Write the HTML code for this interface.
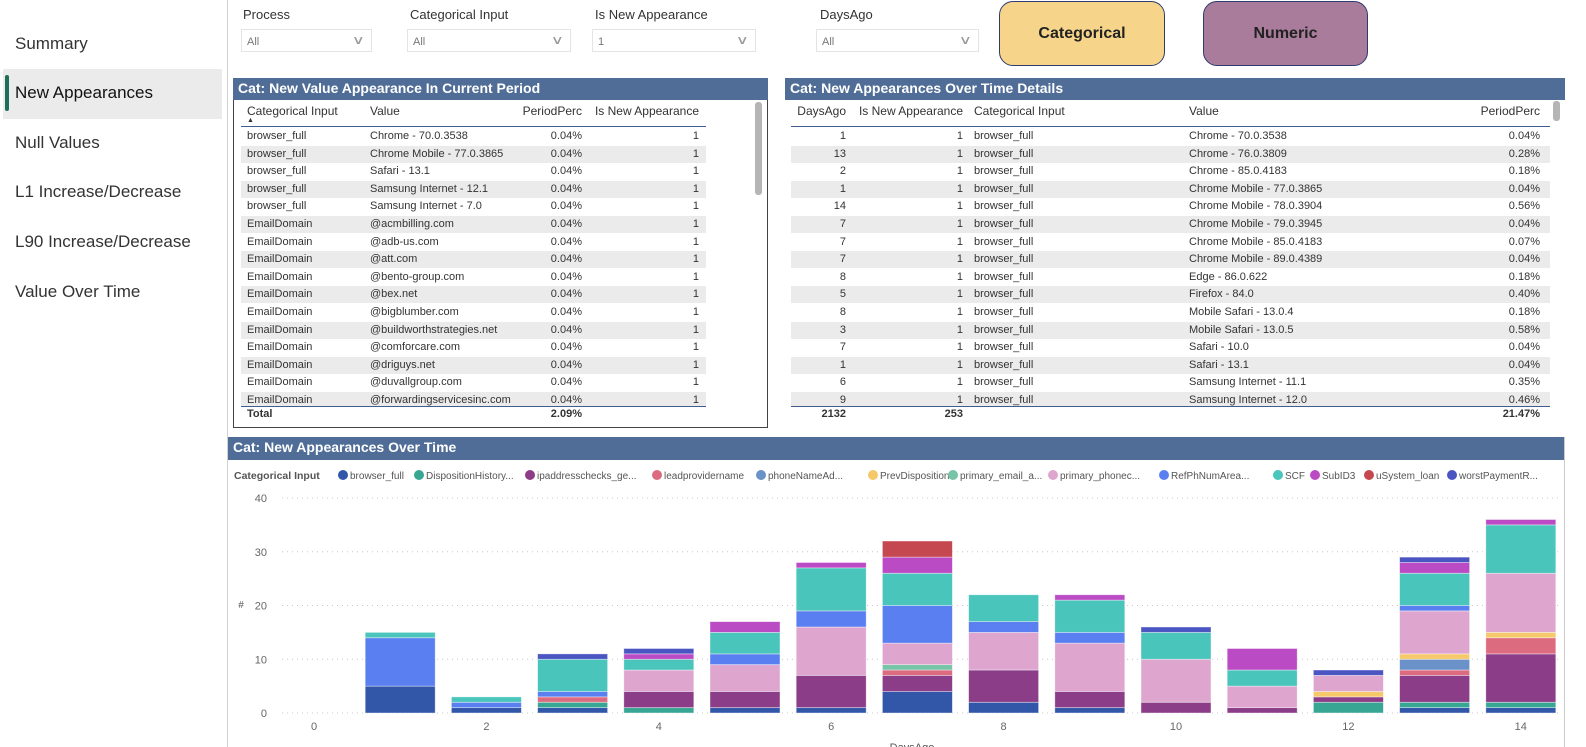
<!DOCTYPE html>
<html><head><meta charset="utf-8"><style>
*{box-sizing:border-box;margin:0;padding:0}
body{width:1586px;height:747px;overflow:hidden;background:#fff;font-family:"Liberation Sans",sans-serif;color:#252423;position:relative}
.nav{position:absolute;left:0;top:0;width:228px;height:747px;border-right:1px solid #d0d0d0}
.nav div{position:absolute;left:15px;font-size:17px;color:#333}
.sel{position:absolute;left:3px;top:69px;width:219px;height:50px;background:#ebebeb}
.selbar{position:absolute;left:5px;top:75px;width:4px;height:36px;background:#1f6e5a;border-radius:2px}
.slab{position:absolute;top:7px;font-size:13px;color:#333}
.sbox{position:absolute;top:29px;height:23px;border:1px solid #e4e4e4;font-size:11px;color:#777;padding:6px 0 0 5px}
.sbox span{position:absolute;right:8px;top:3px;font-size:12px;color:#999;transform:scaleX(1.5)}
.btn{position:absolute;top:1px;height:65px;border:1px solid #2f3b6e;border-radius:14px;font-weight:bold;font-size:16px;text-align:center;line-height:63px;color:#222}
.hdr{position:absolute;background:#4f6d97;color:#fff;font-weight:bold;font-size:14px;padding:2px 0 0 5px;height:22px}
.cell{position:absolute;font-size:11px;white-space:nowrap;color:#333}
.row{position:absolute;height:17px}
</style></head><body>
<div class="nav">
<div class="sel" style="left:3px"></div>
<div class="selbar" style="left:5px"></div>
<div style="top:34px">Summary</div>
<div style="top:83px;color:#111">New Appearances</div>
<div style="top:133px">Null Values</div>
<div style="top:182px">L1 Increase/Decrease</div>
<div style="top:232px">L90 Increase/Decrease</div>
<div style="top:282px">Value Over Time</div>
</div>

<div class="slab" style="left:243px">Process</div>
<div class="sbox" style="left:241px;width:131px">All<span>∨</span></div>
<div class="slab" style="left:410px">Categorical Input</div>
<div class="sbox" style="left:407px;width:164px">All<span>∨</span></div>
<div class="slab" style="left:595px">Is New Appearance</div>
<div class="sbox" style="left:592px;width:164px">1<span>∨</span></div>
<div class="slab" style="left:820px">DaysAgo</div>
<div class="sbox" style="left:816px;width:163px">All<span>∨</span></div>
<div class="btn" style="left:999px;width:166px;background:#f6d58b">Categorical</div>
<div class="btn" style="left:1203px;width:165px;background:#a87c9a">Numeric</div>

<div style="position:absolute;left:233px;top:78px;width:535px;height:350px;border:1px solid #444"></div>
<div class="hdr" style="left:233px;top:78px;width:535px">Cat: New Value Appearance In Current Period</div>
<div id="t1"></div>
<div style="position:absolute;left:755px;top:102px;width:7px;height:93px;background:#b5b5b5;border-radius:3px"></div>

<div class="hdr" style="left:785px;top:78px;width:780px">Cat: New Appearances Over Time Details</div>
<div id="t2"></div>
<div style="position:absolute;left:1553px;top:101px;width:7px;height:20px;background:#b5b5b5;border-radius:3px"></div>

<div class="hdr" style="left:228px;top:437px;width:1337px;height:23px">Cat: New Appearances Over Time</div>
<div style="position:absolute;left:1564px;top:437px;width:1px;height:310px;background:#ccc"></div>
<svg id="chart" width="1586" height="747" style="position:absolute;left:0;top:0;pointer-events:none"></svg>

<script>
const t1Cats=["browser_full","browser_full","browser_full","browser_full","browser_full","EmailDomain","EmailDomain","EmailDomain","EmailDomain","EmailDomain","EmailDomain","EmailDomain","EmailDomain","EmailDomain","EmailDomain","EmailDomain"];
const t1Vals=["Chrome - 70.0.3538","Chrome Mobile - 77.0.3865","Safari - 13.1","Samsung Internet - 12.1","Samsung Internet - 7.0","@acmbilling.com","@adb-us.com","@att.com","@bento-group.com","@bex.net","@bigblumber.com","@buildworthstrategies.net","@comforcare.com","@driguys.net","@duvallgroup.com","@forwardingservicesinc.com"];
const t2Days=[1,13,2,1,14,7,7,7,8,5,8,3,7,1,6,9];
const t2Vals=["Chrome - 70.0.3538","Chrome - 76.0.3809","Chrome - 85.0.4183","Chrome Mobile - 77.0.3865","Chrome Mobile - 78.0.3904","Chrome Mobile - 79.0.3945","Chrome Mobile - 85.0.4183","Chrome Mobile - 89.0.4389","Edge - 86.0.622","Firefox - 84.0","Mobile Safari - 13.0.4","Mobile Safari - 13.0.5","Safari - 10.0","Safari - 13.1","Samsung Internet - 11.1","Samsung Internet - 12.0"];
const t2Perc=["0.04%","0.28%","0.18%","0.04%","0.56%","0.04%","0.07%","0.04%","0.18%","0.40%","0.18%","0.58%","0.04%","0.04%","0.35%","0.46%"];

function cell(parent,txt,x,y,align,bold){
  const d=document.createElement('div');d.className='cell';
  d.textContent=txt;d.style.top=y+'px';
  if(align==='r'){d.style.right=(1586-x)+'px';}else d.style.left=x+'px';
  if(bold)d.style.fontWeight='bold';
  parent.appendChild(d);return d;
}
function rowBg(parent,x,w,y){
  const r=document.createElement('div');r.className='row';
  r.style.left=x+'px';r.style.width=w+'px';r.style.top=y+'px';r.style.background='#ebebeb';
  parent.appendChild(r);
}
const RH=17.6, R0=130;
const t1=document.getElementById('t1');
[["Categorical Input",247,'l'],["Value",370,'l'],["PeriodPerc",582,'r'],["Is New Appearance",699,'r']].forEach(h=>{
  const d=cell(t1,h[0],h[1],104,h[2]);d.style.fontSize='12px';
  
  
});
cell(t1,"▲",247,117,'l').style.fontSize='7px';
let ln=document.createElement('div');ln.style.cssText='position:absolute;left:241px;top:126px;width:465px;height:1px;background:#3f5d8f';t1.appendChild(ln);
const clip1=document.createElement('div');clip1.style.cssText='position:absolute;left:0;top:128px;width:780px;height:278px;overflow:hidden';t1.appendChild(clip1);
t1Cats.forEach((c,i)=>{
  const y=R0+i*RH-128;
  if(i%2===1)rowBg(clip1,241,465,y-2);
  const a=cell(clip1,c,247,y,'l');
  
  
  cell(clip1,t1Vals[i],370,y,'l');
  const p=cell(clip1,"0.04%",0,y,'l');p.style.left='';p.style.right=(780-582)+'px';
  const n=cell(clip1,"1",0,y,'l');n.style.left='';n.style.right=(780-699)+'px';
});
ln=document.createElement('div');ln.style.cssText='position:absolute;left:241px;top:406px;width:465px;height:1px;background:#3f5d8f';t1.appendChild(ln);
cell(t1,"Total",247,408,'l',true);cell(t1,"2.09%",582,408,'r',true);

const t2=document.getElementById('t2');
[["DaysAgo",846,'r'],["Is New Appearance",963,'r'],["Categorical Input",974,'l'],["Value",1189,'l'],["PeriodPerc",1540,'r']].forEach(h=>{
  const d=cell(t2,h[0],h[1],104,h[2]);d.style.fontSize='12px';
  
  
});
ln=document.createElement('div');ln.style.cssText='position:absolute;left:791px;top:126px;width:759px;height:1px;background:#3f5d8f';t2.appendChild(ln);
const clip2=document.createElement('div');clip2.style.cssText='position:absolute;left:0;top:128px;width:1586px;height:278px;overflow:hidden';t2.appendChild(clip2);
t2Days.forEach((dv,i)=>{
  const y=R0+i*RH-128;
  if(i%2===1)rowBg(clip2,791,759,y-2);
  const a=cell(clip2,String(dv),846,y,'r');
  
  
  cell(clip2,"1",963,y,'r');
  cell(clip2,"browser_full",974,y,'l');
  cell(clip2,t2Vals[i],1189,y,'l');
  cell(clip2,t2Perc[i],1540,y,'r');
});
ln=document.createElement('div');ln.style.cssText='position:absolute;left:791px;top:406px;width:759px;height:1px;background:#3f5d8f';t2.appendChild(ln);
cell(t2,"2132",846,408,'r',true);cell(t2,"253",963,408,'r',true);cell(t2,"21.47%",1540,408,'r',true);

const seriesNames=["browser_full","DispositionHistory...","ipaddresschecks_ge...","leadprovidername","phoneNameAd...","PrevDisposition","primary_email_a...","primary_phonec...","RefPhNumArea...","SCF","SubID3","uSystem_loan","worstPaymentR..."];
const seriesColors=["#3257a8","#37a794","#8b3d88","#dd6b7f","#6b91c9","#f5c869","#77c4a8","#dea6cf","#5a7ff0","#4ac5bb","#ba4bc4","#c54850","#4b55c2"];
const days=[1,2,3,4,5,6,7,8,9,10,11,12,13,14];
const sBrowser=[5,1,1,0,1,1,4,2,1,0,0,0,1,1];
const sDisp=[0,0,1,1,0,0,0,0,0,0,0,2,1,1];
const sIp=[0,0,0,3,3,6,3,6,3,2,1,1,5,9];
const sLead=[0,0,1,0,0,0,1,0,0,0,0,0,1,3];
const sPhoneName=[0,0,0,0,0,0,0,0,0,0,0,0,2,0];
const sPrev=[0,0,0,0,0,0,0,0,0,0,0,1,1,1];
const sEmail=[0,0,0,0,0,0,1,0,0,0,0,0,0,0];
const sPhonec=[0,0,0,4,5,9,4,7,9,8,4,3,8,11];
const sRefPh=[9,1,1,0,2,3,7,2,2,0,0,0,1,0];
const sSCF=[1,1,6,2,4,8,6,5,6,5,3,0,6,9];
const sSub=[0,0,0,1,2,1,3,0,1,0,4,0,2,1];
const sUSys=[0,0,0,0,0,0,3,0,0,0,0,0,0,0];
const sWorst=[0,0,1,1,0,0,0,0,0,1,0,1,1,0];
const seriesValues=[sBrowser,sDisp,sIp,sLead,sPhoneName,sPrev,sEmail,sPhonec,sRefPh,sSCF,sSub,sUSys,sWorst];
const yTicks=[0,10,20,30,40];
const xTicks=[0,2,4,6,8,10,12,14];

const svg=document.getElementById('chart');const NS='http://www.w3.org/2000/svg';
function el(tag,attrs,parent){const e=document.createElementNS(NS,tag);for(const k in attrs)e.setAttribute(k,attrs[k]);(parent||svg).appendChild(e);return e;}
const y0=713,y40=498,x0=314,xUnit=86.2,barW=70;
const yS=v=>y0-(v/40)*(y0-y40);
const xS=v=>x0+v*xUnit;

const legX=[338,414,525,652,756,868,948,1048,1159,1273,1310,1364,1447];
const lt=el('text',{x:234,y:479,'font-size':10.5,'font-weight':'bold',fill:'#555','font-family':'Liberation Sans'});lt.textContent='Categorical Input';


seriesNames.forEach((n,i)=>{
  const g=el('g',{});
  
  
  el('circle',{cx:legX[i]+5,cy:475,r:5,fill:seriesColors[i]},g);
  const t=el('text',{x:legX[i]+12,y:479,'font-size':10,fill:'#555','font-family':'Liberation Sans'},g);t.textContent=n;
});

yTicks.forEach(v=>{
  const g=el('line',{x1:282,x2:1558,y1:yS(v),y2:yS(v),stroke:'#c8c8c8','stroke-dasharray':'1,4'});
  
  
  const t=el('text',{x:267,y:yS(v)+4,'font-size':11,fill:'#666','text-anchor':'end','font-family':'Liberation Sans'});t.textContent=v;
  
  
});
const yt=el('text',{x:241,y:608,'font-size':10,fill:'#555','text-anchor':'middle','font-family':'Liberation Sans'});yt.textContent='#';


xTicks.forEach(v=>{
  const t=el('text',{x:xS(v),y:730,'font-size':11,fill:'#666','text-anchor':'middle','font-family':'Liberation Sans'});t.textContent=v;
  
  
});
const xt=el('text',{x:912,y:751,'font-size':11,fill:'#555','text-anchor':'middle','font-family':'Liberation Sans'});xt.textContent='DaysAgo';



days.forEach((d,di)=>{
  let cum=0;
  seriesValues.forEach((arr,si)=>{
    const v=arr[di];if(!v)return;
    const r=el('rect',{x:xS(d)-barW/2,y:yS(cum+v),width:barW,height:yS(cum)-yS(cum+v),fill:seriesColors[si],stroke:'#fff','stroke-opacity':0.5,'stroke-width':0.8});
    
    
    cum+=v;
  });
});
</script>
</body></html>
